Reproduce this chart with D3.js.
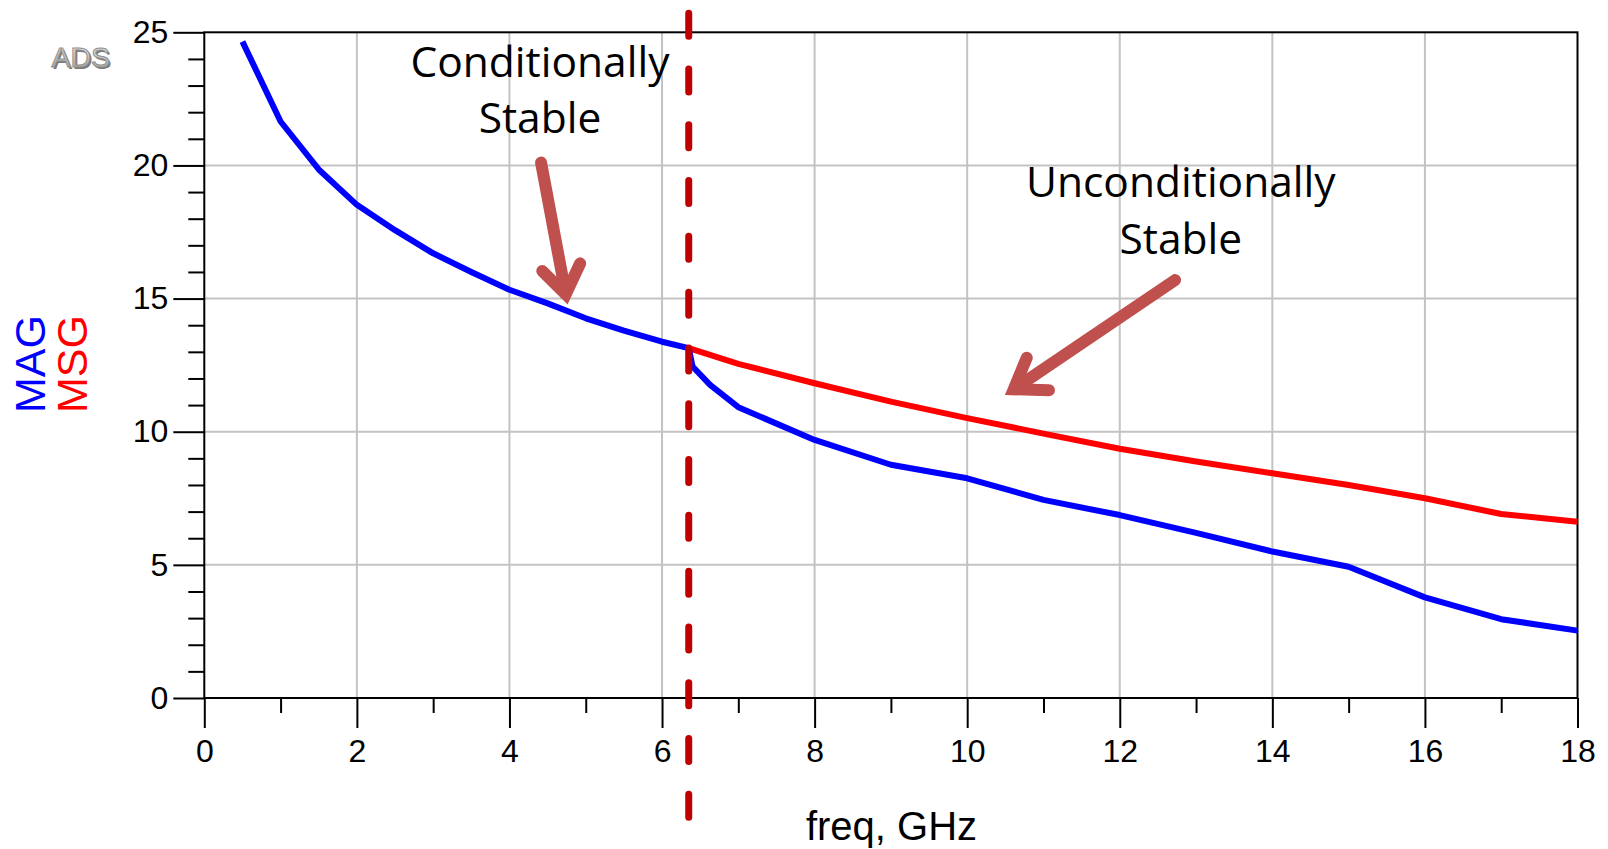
<!DOCTYPE html>
<html>
<head>
<meta charset="utf-8">
<script src="https://cdn.jsdelivr.net/npm/d3@7"></script>
<style>
  html, body { margin: 0; padding: 0; background: #ffffff; }
  svg { display: block; }
  .tick text { font-family: "Liberation Sans", Arial, sans-serif; fill: #000; }
</style>
</head>
<body>
<svg id="chart" width="1608" height="849"></svg>
<script>
// Frequency sweep (GHz) and gains (dB)
const magFreq  = [0.5, 1, 1.5, 2, 2.5, 3, 3.5, 4, 4.5, 5, 5.5, 6, 6.35, 6.4, 6.63, 7, 8, 9, 10, 11, 12, 13, 14, 15, 16, 17, 18];
const magValue = [24.65, 21.65, 19.85, 18.52, 17.57, 16.7, 16.0, 15.33, 14.82, 14.26, 13.8, 13.38, 13.14, 12.45, 11.76, 10.92, 9.69, 8.76, 8.25, 7.44, 6.87, 6.2, 5.5, 4.93, 3.78, 2.96, 2.53];
const msgFreq  = [6.35, 7, 8, 9, 10, 11, 12, 13, 14, 15, 16, 17, 18];
const msgValue = [13.14, 12.55, 11.82, 11.13, 10.51, 9.93, 9.36, 8.88, 8.44, 8.0, 7.5, 6.91, 6.62];

// Axis ticks
const xMajorTicks = [0, 2, 4, 6, 8, 10, 12, 14, 16, 18];
const xMinorTicks = [1, 3, 5, 7, 9, 11, 13, 15, 17];
const yMajorTicks = [0, 5, 10, 15, 20, 25];
const yMinorTicks = [1, 2, 3, 4, 6, 7, 8, 9, 11, 12, 13, 14, 16, 17, 18, 19, 21, 22, 23, 24];

// Stability boundary (GHz) and its vertical span (dB)
const boundaryFreq = 6.35;
const boundarySpan = [-4.5, 25.85];

// Callouts, in data units: [freq, dB]
const calloutTexts = [
  { lines: ["Conditionally", "Stable"], at: [4.40, 23.33] },
  { lines: ["Unconditionally", "Stable"], at: [12.80, 18.80] }
];
const calloutArrows = [
  { from: [4.40, 20.33], tip: [4.77, 14.64], wingA: [4.385, 16.22], wingB: [4.947, 16.54] },
  { from: [12.79, 15.82], tip: [10.452, 11.30], wingA: [10.823, 12.97], wingB: [11.15, 11.59] }
];

const svg = d3.select("#chart");
const x = d3.scaleLinear().domain([0, 18]).range([204.3, 1577.5]);
const y = d3.scaleLinear().domain([0, 25]).range([698, 32.3]);

// Grid
const grid = svg.append("g").attr("stroke", "#c3c3c3").attr("stroke-width", 2);
grid.selectAll("line.gx").data(xMajorTicks.filter(d => d > 0 && d < 18)).join("line")
  .attr("x1", d => x(d)).attr("x2", d => x(d)).attr("y1", y(0)).attr("y2", y(25));
grid.selectAll("line.gy").data(yMajorTicks.filter(d => d > 0 && d < 25)).join("line")
  .attr("x1", x(0)).attr("x2", x(18)).attr("y1", d => y(d)).attr("y2", d => y(d));

// Axes
const fmt = d3.format("d");
const xAxis = svg.append("g").attr("transform", `translate(0,${y(0)})`)
  .call(d3.axisBottom(x).tickValues(xMajorTicks).tickSize(30).tickPadding(11.5).tickFormat(fmt).tickSizeOuter(0));
const xMinor = svg.append("g").attr("transform", `translate(0,${y(0)})`)
  .call(d3.axisBottom(x).tickValues(xMinorTicks).tickSize(15).tickFormat("").tickSizeOuter(0));
const yAxis = svg.append("g").attr("transform", `translate(${x(0)},0)`)
  .call(d3.axisLeft(y).tickValues(yMajorTicks).tickSize(31).tickPadding(5).tickFormat(fmt).tickSizeOuter(0));
const yMinor = svg.append("g").attr("transform", `translate(${x(0)},0)`)
  .call(d3.axisLeft(y).tickValues(yMinorTicks).tickSize(16).tickFormat("").tickSizeOuter(0));

[xAxis, xMinor, yAxis, yMinor].forEach(g => {
  g.select(".domain").remove();
  g.selectAll(".tick line").attr("stroke", "#000").attr("stroke-width", 2);
  g.selectAll(".tick text").attr("font-size", 32).attr("fill", "#000");
});

// Plot frame
svg.append("rect")
  .attr("x", x(0)).attr("y", y(25))
  .attr("width", x(18) - x(0)).attr("height", y(0) - y(25))
  .attr("fill", "none").attr("stroke", "#000").attr("stroke-width", 2);

// Traces
const line = d3.line().x(d => x(d[0])).y(d => y(d[1]));
svg.append("path")
  .datum(msgFreq.map((f, i) => [f, msgValue[i]]))
  .attr("d", line).attr("fill", "none").attr("stroke", "#ff0000")
  .attr("stroke-width", 6).attr("stroke-linejoin", "round");
svg.append("path")
  .datum(magFreq.map((f, i) => [f, magValue[i]]))
  .attr("d", line).attr("fill", "none").attr("stroke", "#0000ff")
  .attr("stroke-width", 6).attr("stroke-linejoin", "round");

// Stability boundary
svg.append("line")
  .attr("x1", x(boundaryFreq)).attr("x2", x(boundaryFreq))
  .attr("y1", y(boundarySpan[1]) + 3.5).attr("y2", y(boundarySpan[0]))
  .attr("stroke", "#c00000").attr("stroke-width", 7)
  .attr("stroke-linecap", "round").attr("stroke-dasharray", "23 32.8");

// Callout arrows: the given points are the outer extents of the drawn stroke,
// so the path vertices are pulled inward by the cap radius / miter length.
const arrowColor = "#c0504d";
const arrowWidth = 12;
const half = arrowWidth / 2;
const unit = (a, b) => { const dx = b[0] - a[0], dy = b[1] - a[1], l = Math.hypot(dx, dy); return [dx / l, dy / l]; };
calloutArrows.forEach(a => {
  const p = v => [x(v[0]), y(v[1])];
  const F = p(a.from), T = p(a.tip), A = p(a.wingA), B = p(a.wingB);
  const uA = unit(T, A), uB = unit(T, B);
  const cosT = uA[0] * uB[0] + uA[1] * uB[1];
  const theta = Math.acos(cosT);
  const miter = half / Math.sin(theta / 2);
  const bis = [uA[0] + uB[0], uA[1] + uB[1]];
  const bl = Math.hypot(bis[0], bis[1]);
  const Tv = [T[0] + bis[0] / bl * miter, T[1] + bis[1] / bl * miter];
  const Av = [A[0] - uA[0] * half, A[1] - uA[1] * half];
  const Bv = [B[0] - uB[0] * half, B[1] - uB[1] * half];
  const uF = unit(F, T);
  const Fv = [F[0] + uF[0] * half, F[1] + uF[1] * half];
  const Ev = [Tv[0] - uF[0] * 4, Tv[1] - uF[1] * 4];
  svg.append("path")
    .attr("d", `M${Fv[0]},${Fv[1]}L${Ev[0]},${Ev[1]}`)
    .attr("stroke", arrowColor).attr("stroke-width", arrowWidth).attr("stroke-linecap", "round").attr("fill", "none");
  svg.append("path")
    .attr("d", `M${Av[0]},${Av[1]}L${Tv[0]},${Tv[1]}L${Bv[0]},${Bv[1]}`)
    .attr("stroke", arrowColor).attr("stroke-width", arrowWidth).attr("stroke-linecap", "round")
    .attr("stroke-linejoin", "miter").attr("stroke-miterlimit", 10).attr("fill", "none");
});

// Callout texts
calloutTexts.forEach(c => {
  const t = svg.append("text")
    .attr("x", x(c.at[0])).attr("y", y(c.at[1]))
    .attr("text-anchor", "middle")
    .attr("font-family", "'Open Sans', 'Noto Sans', sans-serif")
    .attr("font-size", 42.5).attr("fill", "#000");
  c.lines.forEach((s, i) => {
    t.append("tspan").attr("x", x(c.at[0])).attr("dy", i === 0 ? 0 : 56.5).text(s);
  });
});

// Axis titles
svg.append("text")
  .attr("x", 891.5).attr("y", 840)
  .attr("text-anchor", "middle")
  .attr("font-family", "'Liberation Sans', Arial, sans-serif")
  .attr("font-size", 40).attr("fill", "#000")
  .text("freq, GHz");

const yTitle = [{ text: "MAG", color: "#0000ff", bx: 45 }, { text: "MSG", color: "#ff0000", bx: 87 }];
yTitle.forEach(t => {
  svg.append("text")
    .attr("transform", `translate(${t.bx},364) rotate(-90)`)
    .attr("text-anchor", "middle")
    .attr("font-family", "'Liberation Sans', Arial, sans-serif")
    .attr("font-size", 43).attr("fill", t.color)
    .text(t.text);
});

// Embossed badge
const defs = svg.append("defs");
const grad = defs.append("linearGradient").attr("id", "badgeFill")
  .attr("x1", 0).attr("y1", 0).attr("x2", 0).attr("y2", 1);
grad.append("stop").attr("offset", "0%").attr("stop-color", "#f0f0f0");
grad.append("stop").attr("offset", "100%").attr("stop-color", "#9c9c9c");
const badge = svg.append("g").attr("font-family", "'Liberation Sans', Arial, sans-serif")
  .attr("font-size", 28.5).attr("text-anchor", "middle");
badge.append("text").attr("x", 82.6).attr("y", 68.8).attr("fill", "#7a7a7a").text("ADS");
badge.append("text").attr("x", 80.8).attr("y", 67).attr("fill", "url(#badgeFill)")
  .attr("stroke", "#909090").attr("stroke-width", 1).text("ADS");
</script>
</body>
</html>
